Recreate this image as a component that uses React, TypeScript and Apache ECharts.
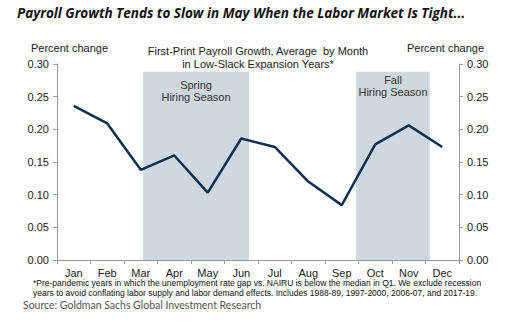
import React, { useEffect, useRef } from "react";
import * as echarts from "echarts";

const months = ["Jan", "Feb", "Mar", "Apr", "May", "Jun", "Jul", "Aug", "Sep", "Oct", "Nov", "Dec"];
const payrollGrowth = [0.236, 0.209, 0.138, 0.160, 0.103, 0.186, 0.173, 0.120, 0.084, 0.177, 0.206, 0.173];
const springSeason = [2.57, 5.73];
const fallSeason = [8.93, 11.13];
const seasonTop = 0.288;
const springLabel = "Spring\nHiring Season";
const fallLabel = "Fall\nHiring Season";

const titleText = "Payroll Growth Tends to Slow in May When the Labor Market Is Tight...";
const chartTitle = "First-Print Payroll Growth, Average  by Month\nin Low-Slack Expansion Years*";
const axisName = "Percent change";
const footnote1 = "*Pre-pandemic years in which the unemployment rate gap vs. NAIRU is below the median in Q1. We exclude recession";
const footnote2 = "years to avoid conflating labor supply and labor demand effects. Includes 1988-89, 1997-2000, 2006-07, and 2017-19.";
const sourceText = "Source: Goldman Sachs Global Investment Research";

export default function App() {
  const ref = useRef<HTMLDivElement>(null);
  useEffect(() => {
    document.body.style.margin = "0";
    if (!ref.current) return;
    const chart = echarts.init(ref.current, undefined, { renderer: "svg" });
    const axisFont = { fontFamily: "Liberation Sans", fontSize: 11, color: "#222" };
    const axisLine = { show: true, lineStyle: { color: "#9a9a9a", width: 1 } };
    chart.setOption({
      animation: false,
      backgroundColor: "#fff",
      grid: { left: 57, right: 58, top: 64, bottom: 70 },
      xAxis: [
        {
          type: "category",
          data: months,
          boundaryGap: true,
          axisLine,
          axisTick: { show: true, interval: 0, length: 4, lineStyle: { color: "#9a9a9a" } },
          axisLabel: { ...axisFont, interval: 0, margin: 7 },
        },
        { type: "value", min: 0, max: 12, show: false },
      ],
      yAxis: [
        {
          type: "value",
          min: 0,
          max: 0.3,
          interval: 0.05,
          position: "left",
          axisLine,
          axisTick: { show: true, length: 4, lineStyle: { color: "#9a9a9a" } },
          splitLine: { show: false },
          axisLabel: { ...axisFont, margin: 8, formatter: (v: number) => v.toFixed(2) },
        },
        {
          type: "value",
          min: 0,
          max: 0.3,
          interval: 0.05,
          position: "right",
          axisLine,
          axisTick: { show: true, length: 4, lineStyle: { color: "#9a9a9a" } },
          splitLine: { show: false },
          axisLabel: { ...axisFont, margin: 8, formatter: (v: number) => v.toFixed(2) },
        },
      ],
      series: [
        {
          type: "line",
          xAxisIndex: 1,
          yAxisIndex: 0,
          data: [],
          silent: true,
          markArea: {
            silent: true,
            itemStyle: { color: "#cdd8e1" },
            label: {
              position: "insideTop",
              fontFamily: "Liberation Sans",
              fontSize: 11,
              color: "#333",
              lineHeight: 12,
            },
            data: [
              [
                { xAxis: springSeason[0], yAxis: 0, name: springLabel, label: { distance: 7 } },
                { xAxis: springSeason[1], yAxis: seasonTop },
              ],
              [
                { xAxis: fallSeason[0], yAxis: 0, name: fallLabel, label: { distance: 2 } },
                { xAxis: fallSeason[1], yAxis: seasonTop },
              ],
            ],
          },
        },
        {
          type: "line",
          xAxisIndex: 0,
          yAxisIndex: 0,
          data: payrollGrowth,
          symbol: "none",
          lineStyle: { color: "#0e2f4f", width: 2.5 },
          z: 5,
        },
      ],
      graphic: [
        {
          type: "text",
          left: 17,
          top: 6,
          style: {
            text: titleText,
            fontFamily: "Open Sans",
            fontWeight: "bold",
            fontStyle: "italic",
            fontSize: 13.5,
            fill: "#111",
          },
        },
        {
          type: "text",
          left: 31,
          top: 42,
          style: { text: axisName, fontFamily: "Liberation Sans", fontSize: 11, fill: "#222" },
        },
        {
          type: "text",
          left: 407,
          top: 42,
          style: { text: axisName, fontFamily: "Liberation Sans", fontSize: 11, fill: "#222" },
        },
        {
          type: "text",
          x: 258,
          y: 44,
          style: {
            text: chartTitle,
            fontFamily: "Liberation Sans",
            fontSize: 11,
            lineHeight: 13,
            fill: "#222",
            align: "center",
          },
        },
        {
          type: "text",
          left: 33,
          top: 278,
          style: {
            text: footnote1 + "\n" + footnote2,
            fontFamily: "Liberation Sans",
            fontSize: 8.5,
            lineHeight: 10,
            fill: "#111",
          },
        },
        {
          type: "text",
          left: 23,
          top: 299,
          style: { text: sourceText, fontFamily: "Lato", fontSize: 10.5, fill: "#555" },
        },
      ],
    });
    return () => chart.dispose();
  }, []);
  return <div ref={ref} style={{ width: 517, height: 330 }} />;
}
